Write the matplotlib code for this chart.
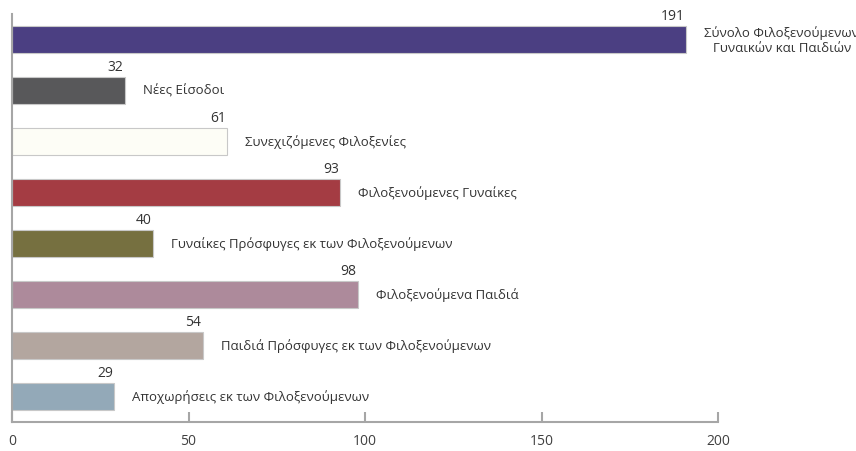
import matplotlib
matplotlib.use("Agg")
import matplotlib.pyplot as plt

categories = [
    "Σύνολο Φιλοξενούμενων\nΓυναικών και Παιδιών",
    "Νέες Είσοδοι",
    "Συνεχιζόμενες Φιλοξενίες",
    "Φιλοξενούμενες Γυναίκες",
    "Γυναίκες Πρόσφυγες εκ των Φιλοξενούμενων",
    "Φιλοξενούμενα Παιδιά",
    "Παιδιά Πρόσφυγες εκ των Φιλοξενούμενων",
    "Αποχωρήσεις εκ των Φιλοξενούμενων",
]
values = [191, 32, 61, 93, 40, 98, 54, 29]
colors = ["#4B3F82", "#58585A", "#FDFDF6", "#A43C43", "#767040",
          "#AD8A9B", "#B3A69F", "#93A9B8"]
xticks = [0, 50, 100, 150, 200]

plt.rcParams['font.family'] = ['Open Sans', 'DejaVu Sans']

fig = plt.figure(figsize=(8.56, 4.52), dpi=100)
ax = fig.add_axes([12/856, 1 - 423/452, 706/856, 408/452])

ypos = list(range(len(values)))[::-1]
ax.barh(ypos, values, height=0.51, color=colors, edgecolor="#C8C8C8",
        linewidth=0.8, zorder=2)

for y, v, c in zip(ypos, values, categories):
    ax.annotate(str(v), xy=(v, y + 0.255), xytext=(-1, 2.5),
                textcoords="offset points", ha="right", va="bottom",
                fontsize=10, color="#333333")
    ax.annotate(c, xy=(v, y), xytext=(13, 0), textcoords="offset points",
                ha="left", va="center", fontsize=9.5, color="#333333",
                multialignment="center", annotation_clip=False)

ax.set_xlim(0, 200)
ax.set_ylim(-0.5, 7.5)
ax.set_xticks(xticks)
ax.set_yticks([])
for s in ["top", "right"]:
    ax.spines[s].set_visible(False)
for s in ["left", "bottom"]:
    ax.spines[s].set_color("#A6A6A6")
    ax.spines[s].set_linewidth(1.5)
ax.tick_params(axis="x", direction="in", length=7, width=1.5, color="#A6A6A6",
               pad=8, labelsize=10, labelcolor="#404040")

fig.savefig("out.png", dpi=100)
